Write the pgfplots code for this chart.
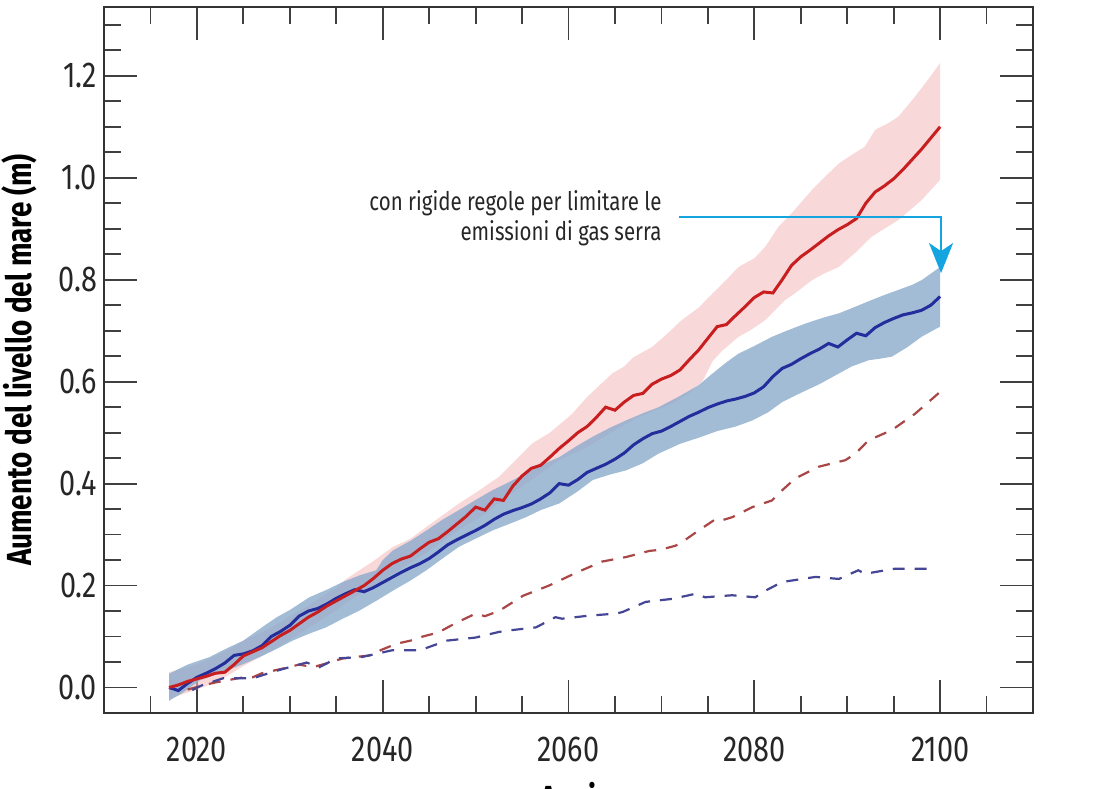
\documentclass[border=0pt]{standalone}
\usepackage{pgfplots}
\pgfplotsset{compat=1.18}
\usetikzlibrary{arrows.meta}
\usepackage{fontspec}
\setmainfont{Fira Sans}[FakeStretch=0.8]
\definecolor{redline}{RGB}{200,30,32}
\definecolor{blueline}{RGB}{35,45,155}
\definecolor{reddash}{RGB}{170,70,70}
\definecolor{bluedash}{RGB}{70,70,150}
\definecolor{redband}{RGB}{244,190,190}
\definecolor{blueband}{RGB}{140,171,204}
\definecolor{arrowblue}{RGB}{20,165,225}
\begin{document}
\begin{tikzpicture}
\begin{axis}[
  scale only axis, width=464.5pt, height=353pt,
  xmin=2010, xmax=2110, ymin=-0.05, ymax=1.335,
  xtick={2020,2040,2060,2080,2100},
  minor xtick={2015,2025,2030,2035,2045,2050,2055,2065,2070,2075,2085,2090,2095,2105},
  ytick={0,0.2,0.4,0.6,0.8,1.0,1.2},
  minor ytick={0.05,0.1,0.15,0.25,0.3,0.35,0.45,0.5,0.55,0.65,0.7,0.75,0.85,0.9,0.95,1.05,1.1,1.15,1.25,1.3},
  tick align=inside,
  major tick length=16.5pt, minor tick length=8.5pt,
  every tick/.style={line width=0.9pt, black!75},
  axis line style={line width=1pt, black!80},
  /pgf/number format/assume math mode=true,
  tick label style={font=\fontsize{18}{20}\selectfont, text=black!85},
  yticklabel style={/pgf/number format/.cd, fixed, fixed zerofill, precision=1},
  xticklabel style={/pgf/number format/1000 sep={}, yshift=-8.5pt},
  ylabel={Aumento del livello del mare (m)},
  ylabel style={at={(axis description cs:-0.072,0.5)}, anchor=south, inner sep=0pt, font=\fontsize{17.4}{20}\selectfont\bfseries},
  xlabel={Anni},
  xlabel style={at={(axis description cs:0.5,-0.097)}, anchor=north, inner sep=0pt, font=\fontsize{17.4}{20}\selectfont\bfseries},
]
% red band
\addplot[draw=none, fill=redband, fill opacity=0.6] coordinates {
(2017,0.030) (2019,0.040) (2020,0.045) (2022,0.062) (2024,0.080) (2025,0.092) (2027,0.108) (2029,0.128) (2030,0.140)
(2032,0.160) (2034,0.185) (2035,0.195) (2036,0.212) (2037.5,0.230) (2039,0.248) (2041.1,0.276) (2043,0.292) (2044.7,0.315)
(2046,0.332) (2048.2,0.361) (2050,0.382) (2052.5,0.413) (2054,0.440) (2056.1,0.479) (2058,0.500) (2060.4,0.537)
(2062,0.570) (2064.7,0.616) (2066,0.630) (2067,0.648) (2069,0.668) (2070.5,0.692) (2072.2,0.721) (2074,0.745)
(2075.5,0.773) (2077,0.800) (2078.3,0.825) (2080,0.842) (2081.2,0.865) (2082.6,0.904) (2084,0.930) (2086.2,0.976)
(2087.5,1.000) (2089.1,1.028) (2090.5,1.045) (2091.9,1.061) (2093,1.094) (2094.5,1.108) (2095.5,1.120) (2097.3,1.159)
(2098.8,1.195) (2100,1.225)
(2100,0.996) (2098,0.956) (2095.5,0.917) (2094,0.900) (2092.6,0.884) (2091,0.855) (2089.1,0.825) (2087.5,0.812)
(2086.2,0.799) (2084.5,0.775) (2083.3,0.760) (2081.2,0.721) (2079.5,0.700) (2078.3,0.688) (2076.5,0.660) (2075.5,0.640)
(2074.4,0.600) (2073,0.578) (2071.2,0.557) (2069.5,0.545) (2067.6,0.531) (2066,0.515) (2064.4,0.498) (2062,0.472)
(2059,0.446) (2057,0.420) (2055,0.395) (2053,0.370) (2051,0.340) (2049,0.318) (2047,0.295) (2045,0.268) (2043,0.245)
(2041,0.222) (2039,0.200) (2037,0.178) (2035,0.152) (2033,0.128) (2031,0.105) (2029,0.082) (2027,0.062) (2025,0.042)
(2023,0.020) (2021,0.003) (2019,-0.010) (2017,-0.022)
} -- cycle;
% blue band
\addplot[draw=none, fill=blueband, fill opacity=0.8] coordinates {
(2017,0.027) (2019,0.045) (2021.4,0.060) (2023,0.075) (2025,0.092) (2027,0.118) (2028.6,0.138) (2030,0.152)
(2032.1,0.177) (2034,0.192) (2035.7,0.207) (2037.5,0.220) (2039.3,0.230) (2040,0.250) (2041.1,0.269) (2043,0.288)
(2044.7,0.308) (2046.5,0.330) (2048.2,0.348) (2050,0.368) (2051.8,0.387) (2053.5,0.402) (2055.4,0.420) (2057,0.436)
(2059,0.452) (2061,0.475) (2062.6,0.492) (2064.5,0.510) (2066.2,0.524) (2068,0.538) (2069.7,0.550) (2072,0.572)
(2074,0.593) (2075.5,0.616) (2077,0.638) (2078.3,0.655) (2080,0.670) (2081.9,0.688) (2083.5,0.700) (2085.5,0.714)
(2087.5,0.726) (2089.1,0.734) (2091,0.748) (2092.6,0.760) (2094,0.770) (2095.5,0.780) (2097,0.790) (2098,0.799)
(2100,0.825)
(2100,0.708) (2098,0.688) (2096.5,0.668) (2094.8,0.649) (2093.5,0.645) (2092.3,0.642) (2090.5,0.630) (2089.1,0.616)
(2087,0.595) (2085,0.578) (2083,0.560) (2081.5,0.540) (2079.8,0.524) (2078,0.512) (2076,0.503) (2074,0.490)
(2072,0.478) (2069.7,0.459) (2068,0.440) (2066.2,0.426) (2064.5,0.418) (2062.6,0.407) (2061,0.385) (2059,0.361)
(2057,0.348) (2055.4,0.334) (2053.5,0.320) (2051.8,0.308) (2050,0.292) (2048.2,0.276) (2046.5,0.254) (2044.7,0.230)
(2043,0.210) (2041.1,0.190) (2039.3,0.170) (2037.5,0.151) (2035.7,0.135) (2033.9,0.118) (2032,0.105) (2030.3,0.092)
(2028.5,0.075) (2026.8,0.060) (2025,0.046) (2023.2,0.033) (2021.5,0.022) (2020.3,0.014) (2018.5,-0.010) (2017,-0.026)
} -- cycle;
% dashed red
\addplot[reddash, line width=1.1pt, dash pattern=on 6pt off 5pt] coordinates {
(2019,-0.004) (2020.6,0.004) (2022,0.010) (2023.2,0.014) (2025,0.020) (2026,0.020) (2027,0.028) (2029.2,0.037)
(2031,0.045) (2032.5,0.040) (2033.5,0.045) (2035.7,0.057) (2038.6,0.063) (2040,0.075) (2041.5,0.086) (2043,0.092)
(2044.3,0.100) (2046,0.108) (2047.2,0.120) (2048.5,0.132) (2050,0.145) (2051,0.140) (2052.5,0.150) (2055.1,0.180)
(2057.9,0.200) (2060.8,0.225) (2063.6,0.247) (2066.2,0.256) (2068.7,0.268) (2069.8,0.270) (2071.5,0.278)
(2072.2,0.285) (2074,0.308) (2075.8,0.330) (2076.5,0.328) (2077.6,0.334) (2079.8,0.354) (2081.9,0.367) (2083,0.387)
(2084.4,0.410) (2086.9,0.433) (2089.8,0.446) (2090.9,0.459) (2092.3,0.485) (2094.8,0.505) (2097.3,0.537) (2100,0.580)
};
% dashed blue
\addplot[bluedash, line width=1.1pt, dash pattern=on 6pt off 5pt] coordinates {
(2019.5,-0.005) (2020.5,0.004) (2022.8,0.018) (2026,0.018) (2028.6,0.033) (2031.8,0.049) (2033.2,0.040) (2035,0.057)
(2037.8,0.060) (2041,0.073) (2044,0.073) (2046.9,0.092) (2050,0.098) (2052.5,0.109) (2053.6,0.112) (2056.5,0.118)
(2058.6,0.138) (2059.3,0.135) (2062.2,0.141) (2065.1,0.145) (2065.8,0.148) (2068.3,0.168) (2071.2,0.174)
(2073.7,0.184) (2074.7,0.177) (2077.6,0.181) (2080.1,0.177) (2081.2,0.190) (2083,0.207) (2086.6,0.217) (2089.1,0.213)
(2091.2,0.230) (2091.9,0.223) (2094.1,0.230) (2095.1,0.233) (2099,0.233)
};
% blue solid
\addplot[blueline, line width=1.5pt] coordinates {
(2017,0.000) (2018,-0.006) (2019,0.008) (2020,0.020) (2021,0.028) (2022,0.037) (2023,0.048) (2024,0.063) (2025,0.066)
(2026,0.072) (2027,0.082) (2028,0.100) (2029,0.110) (2030,0.122) (2031,0.140) (2032,0.150) (2033,0.155) (2034,0.164)
(2035,0.175) (2036,0.184) (2037,0.192) (2038,0.188) (2039,0.196) (2040,0.206) (2041,0.216) (2042,0.226) (2043,0.235)
(2044,0.243) (2045,0.253) (2046,0.266) (2047,0.280) (2048,0.290) (2049,0.299) (2050,0.308) (2051,0.318) (2052,0.330)
(2053,0.340) (2054,0.347) (2055,0.353) (2056,0.360) (2057,0.370) (2058,0.382) (2059,0.400) (2060,0.397) (2061,0.408)
(2062,0.422) (2063,0.430) (2064,0.438) (2065,0.448) (2066,0.460) (2067,0.476) (2068,0.488) (2069,0.498) (2070,0.503)
(2071,0.512) (2072,0.522) (2073,0.532) (2074,0.540) (2075,0.549) (2076,0.556) (2077,0.562) (2078,0.566) (2079,0.571)
(2080,0.578) (2081,0.590) (2082,0.610) (2083,0.626) (2084,0.634) (2085,0.645) (2086,0.655) (2087,0.664) (2088,0.675)
(2089,0.668) (2090,0.682) (2091,0.695) (2092,0.690) (2093,0.706) (2094,0.716) (2095,0.724) (2096,0.731) (2097,0.735)
(2098,0.740) (2099,0.750) (2100,0.767)
};
% red solid
\addplot[redline, line width=1.5pt] coordinates {
(2017,0.000) (2018,0.005) (2019,0.012) (2020,0.017) (2021,0.022) (2022,0.028) (2023,0.030) (2024,0.045) (2025,0.062)
(2026,0.070) (2027,0.078) (2028,0.090) (2029,0.102) (2030,0.112) (2031,0.125) (2032,0.138) (2033,0.148) (2034,0.160)
(2035,0.170) (2036,0.180) (2037,0.190) (2038,0.200) (2039,0.214) (2040,0.230) (2041,0.243) (2042,0.252) (2043,0.258)
(2044,0.272) (2045,0.285) (2046,0.292) (2047,0.306) (2048,0.321) (2049,0.336) (2050,0.354) (2051,0.348) (2052,0.370)
(2053,0.367) (2054,0.395) (2055,0.415) (2056,0.430) (2057,0.436) (2058,0.452) (2059,0.469) (2060,0.484) (2061,0.500)
(2062,0.512) (2063,0.530) (2064,0.550) (2065,0.544) (2066,0.560) (2067,0.573) (2068,0.577) (2069,0.595) (2070,0.605)
(2071,0.612) (2072,0.623) (2073,0.643) (2074,0.662) (2075,0.685) (2076,0.708) (2077,0.712) (2078,0.730) (2079,0.747)
(2080,0.765) (2081,0.776) (2082,0.774) (2083,0.800) (2084,0.828) (2085,0.845) (2086,0.858) (2087,0.872) (2088,0.886)
(2089,0.898) (2090,0.908) (2091,0.920) (2092,0.950) (2093,0.972) (2094,0.984) (2095,0.998) (2096,1.016) (2097,1.036)
(2098,1.056) (2099,1.078) (2100,1.100)
};
% annotation
\node[anchor=east, align=right, inner sep=0pt, font=\fontsize{12.8}{15}\selectfont, text=black!85]
  at (axis cs:2070.05,0.921) {con rigide regole per limitare le\\emissioni di gas serra};
\draw[arrowblue, line width=1.2pt, -{Stealth[length=15pt,width=12pt,inset=4pt]}]
  (axis cs:2071.9,0.923) -| (axis cs:2100.1,0.813);
\end{axis}
\pgfresetboundingbox
\path[use as bounding box] ([shift={(-52pt,-37.5pt)}]current axis.south west) rectangle ([shift={(33.5pt,3.5pt)}]current axis.north east);
\end{tikzpicture}
\end{document}
